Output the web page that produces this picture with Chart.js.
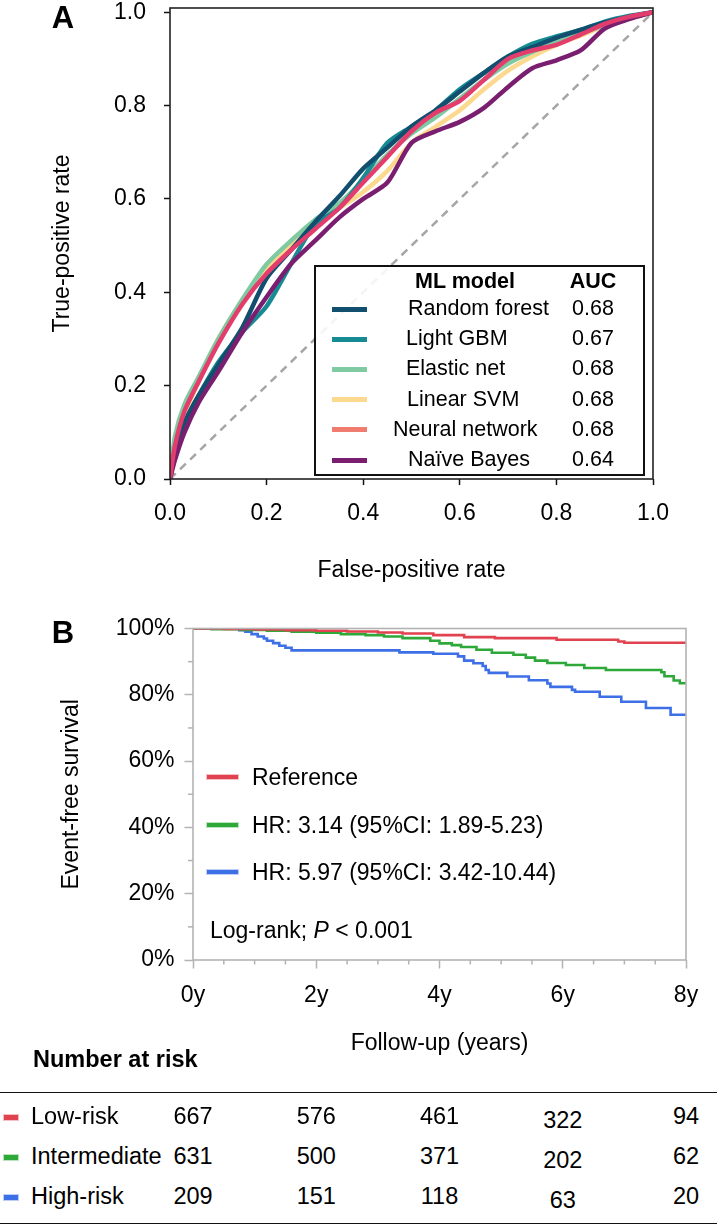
<!DOCTYPE html>
<html><head><meta charset="utf-8">
<script src="https://cdn.jsdelivr.net/npm/chart.js@4.4.1/dist/chart.umd.min.js"></script>
<style>
html,body{margin:0;padding:0;background:#fff;}
body{width:717px;height:1226px;position:relative;overflow:hidden;font-family:'Liberation Sans',Arial,Helvetica,sans-serif;color:#000;}
canvas{position:absolute;left:0;}
.t{position:absolute;white-space:nowrap;line-height:1;}
.mk{position:absolute;}
</style></head><body>
<canvas id="cA" width="717" height="610" style="top:0px"></canvas>
<canvas id="cB" width="717" height="460" style="top:600px"></canvas>
<div id="ov"></div>
<script>
// ---------- Panel A data (ROC) ----------
const rocFpr = [0,0.01,0.03,0.06,0.1,0.15,0.2,0.25,0.3,0.35,0.4,0.45,0.5,0.55,0.6,0.65,0.7,0.75,0.8,0.85,0.9,0.95,1];
const tprRandomForest = [0,0.06,0.12,0.18,0.245,0.325,0.43,0.49,0.55,0.605,0.665,0.71,0.755,0.79,0.83,0.87,0.905,0.925,0.945,0.962,0.978,0.99,1];
const tprLightGBM     = [0,0.05,0.12,0.18,0.25,0.315,0.37,0.46,0.545,0.58,0.645,0.72,0.755,0.79,0.835,0.87,0.905,0.932,0.948,0.962,0.98,0.992,1];
const tprElasticNet   = [0,0.09,0.16,0.22,0.30,0.385,0.46,0.51,0.555,0.59,0.64,0.695,0.74,0.775,0.815,0.855,0.89,0.915,0.935,0.955,0.972,0.988,1];
const tprLinearSVM    = [0,0.08,0.14,0.21,0.30,0.38,0.45,0.50,0.545,0.58,0.615,0.66,0.72,0.755,0.79,0.835,0.875,0.905,0.93,0.95,0.97,0.985,1];
const tprNeuralNet    = [0,0.07,0.145,0.21,0.29,0.375,0.44,0.49,0.535,0.58,0.635,0.69,0.745,0.785,0.81,0.855,0.90,0.918,0.93,0.952,0.975,0.99,1];
const tprNaiveBayes   = [0,0.04,0.10,0.165,0.23,0.315,0.39,0.46,0.51,0.56,0.60,0.635,0.72,0.745,0.765,0.795,0.84,0.88,0.897,0.918,0.965,0.985,1];
const modelNames = ['Random forest','Light GBM','Elastic net','Linear SVM','Neural network','Naïve Bayes'];
const aucValues  = ['0.68','0.67','0.68','0.68','0.68','0.64'];
const rocTicks = [0,0.2,0.4,0.6,0.8,1.0];

// ---------- Panel B data (Kaplan-Meier) ----------
const kmTimeLow  = [0,0.5,1.0,1.5,2.0,2.5,3.0,3.4,3.9,4.4,4.9,5.9,6.9,7.0,8];
const kmSurvLow  = [100,99.9,99.7,99.5,99.3,99.1,98.8,98.5,98.0,97.4,97.1,96.6,96.1,95.7,95.7];
const kmTimeMid  = [0,0.3,0.8,1.2,1.6,2.0,2.4,2.8,3.1,3.4,3.85,4.0,4.2,4.35,4.6,4.85,5.2,5.4,5.55,5.75,6.05,6.35,6.7,7.6,7.65,7.8,7.9,8];
const kmSurvMid  = [100,99.8,99.6,99.3,99.0,98.7,98.3,98.0,97.6,97.1,96.3,95.5,95.0,94.4,93.6,92.7,92.1,91.2,90.3,89.6,89.0,88.1,87.5,86.8,85.6,84.3,83.5,83.5];
const kmTimeHigh = [0,0.75,0.85,0.95,1.05,1.15,1.2,1.3,1.4,1.5,1.6,3.35,3.9,4.3,4.4,4.55,4.7,4.75,4.8,5.1,5.45,5.75,5.8,6.15,6.2,6.6,6.95,7.35,7.75,8];
const kmSurvHigh = [100,99.5,99.0,98.3,97.6,97.0,96.3,95.6,94.8,94.2,93.4,92.8,92.4,91.6,90.3,89.5,88.7,87.5,86.6,85.5,84.4,83.4,82.4,81.5,80.9,79.4,77.9,76.0,74.0,74.0];
const kmLegend = ['Reference','HR: 3.14 (95%CI: 1.89-5.23)','HR: 5.97 (95%CI: 3.42-10.44)'];
const riskGroups = ['Low-risk','Intermediate','High-risk'];
const riskTimes  = [0,2,4,6,8];
const riskLow    = [667,576,461,322,94];
const riskMid    = [631,500,371,202,62];
const riskHigh   = [209,151,118,63,20];
const kmTicksX = [0,2,4,6,8];
const kmTicksY = [0,20,40,60,80,100];

// ---------- styles ----------
const FONT = "'Liberation Sans', Arial, Helvetica, sans-serif";
Chart.defaults.font.family = FONT;
Chart.defaults.color = '#000';
const rocColors = ['#124e6e','#168b94','#7fcaa0','#fcd98e','#e23d6d','#7a1f70'];
const rocLegendColors = ['#124e6e','#168b94','#7fcaa0','#fcd98e','#f07b6f','#7a1f70'];
const rocOrder = [2,3,4,5,0,1];
const kmColors = ['#e0424f','#2fa83a','#3d6fe6'];

const pts = (xs, ys) => xs.map((x,i)=>({x, y: ys[i]}));
const frame = (color,w) => ({
  id:'frame',
  afterDatasetsDraw(chart){
    const a = chart.chartArea, ctx = chart.ctx;
    ctx.save(); ctx.strokeStyle = color; ctx.lineWidth = w;
    ctx.strokeRect(a.left, a.top, a.right-a.left, a.bottom-a.top);
    ctx.restore();
  }
});

// ---------- Chart A ----------
const rocSeries = [tprRandomForest,tprLightGBM,tprElasticNet,tprLinearSVM,tprNeuralNet,tprNaiveBayes];
const dsA = rocSeries.map((s,i)=>({
  label: modelNames[i], data: pts(rocFpr, s), borderColor: rocColors[i], borderWidth: 4.5,
  pointRadius: 0, showLine: true, fill: false, tension: 0.25, order: rocOrder[i]
}));
dsA.push({label:'chance', data: pts([0,1],[0,1]), borderColor:'#a6a6a6', borderWidth:2.5,
  borderDash:[8,6], pointRadius:0, showLine:true, fill:false, order: 10});

const axisA = {
  grid:{display:true, drawOnChartArea:false, drawTicks:true, tickLength:6, tickColor:'#111', tickWidth:1.5},
  border:{display:false}
};
const chartA = new Chart(document.getElementById('cA'), {
  type:'scatter',
  data:{datasets: dsA},
  options:{
    responsive:false, animation:false, devicePixelRatio:1,
    layout:{padding:{left:0, top:8, right:64, bottom:0}},
    plugins:{legend:{display:false}, tooltip:{enabled:false}},
    scales:{
      x:{type:'linear', min:0, max:1, ...axisA,
        afterBuildTicks: ax => { ax.ticks = rocTicks.map(v=>({value:v})); },
        afterFit: ax => { ax.height = 131; },
        ticks:{padding:15, font:{size:23}, color:'#000', callback: v => Number(v).toFixed(1)},
        title:{display:true, text:'False-positive rate', font:{size:23}, color:'#000', padding:{top:0,bottom:26}}
      },
      y:{type:'linear', min:0, max:1.009, ...axisA,
        afterBuildTicks: ax => { ax.ticks = rocTicks.map(v=>({value:v})); },
        afterFit: ax => { ax.width = 170; ax.paddingTop = 0; ax.paddingBottom = 0; },
        ticks:{padding:18, font:{size:23}, color:'#000', callback: v => Number(v).toFixed(1)},
        title:{display:true, text:'True-positive rate', font:{size:23}, color:'#000', padding:{top:49,bottom:0}}
      }
    }
  },
  plugins:[frame('#222',1.6)]
});

// ---------- Chart B ----------
const kmSets = [[kmTimeLow,kmSurvLow],[kmTimeMid,kmSurvMid],[kmTimeHigh,kmSurvHigh]];
const dsB = kmSets.map((s,i)=>({
  label: riskGroups[i], data: pts(s[0], s[1]), borderColor: kmColors[i], borderWidth: 2.6,
  pointRadius:0, showLine:true, fill:false, stepped:'before'
}));
const grey = '#b3b3b3';
const minorTicks = {
  id:'minorTicks',
  afterDraw(chart){
    const {ctx, chartArea:a, scales:{x,y}} = chart;
    ctx.save(); ctx.strokeStyle = grey; ctx.lineWidth = 1.5;
    for (let v=0.5; v<8; v+=0.5){ if (v%2===0) continue;
      const px = x.getPixelForValue(v);
      ctx.beginPath(); ctx.moveTo(px,a.bottom); ctx.lineTo(px,a.bottom+4.5); ctx.stroke(); }
    for (let v=10; v<100; v+=20){
      const py = y.getPixelForValue(v);
      ctx.beginPath(); ctx.moveTo(a.left,py); ctx.lineTo(a.left-5,py); ctx.stroke(); }
    ctx.restore();
  }
};
const axisB = {
  grid:{display:true, drawOnChartArea:false, drawTicks:true, tickLength:8.5, tickColor:grey, tickWidth:1.5},
  border:{display:false}
};
const chartB = new Chart(document.getElementById('cB'), {
  type:'scatter',
  data:{datasets: dsB},
  options:{
    responsive:false, animation:false, devicePixelRatio:1,
    layout:{padding:{left:0, top:28.5, right:31, bottom:0}},
    plugins:{legend:{display:false}, tooltip:{enabled:false}},
    scales:{
      x:{type:'linear', min:0, max:8, ...axisB,
        afterBuildTicks: ax => { ax.ticks = kmTicksX.map(v=>({value:v})); },
        afterFit: ax => { ax.height = 100; },
        ticks:{padding:13, font:{size:23}, color:'#000', callback: v => v + 'y'},
        title:{display:true, text:'Follow-up (years)', font:{size:23}, color:'#000', padding:{top:0,bottom:3}}
      },
      y:{type:'linear', min:0, max:100, ...axisB,
        afterBuildTicks: ax => { ax.ticks = kmTicksY.map(v=>({value:v})); },
        afterFit: ax => { ax.width = 193; ax.paddingTop = 0; ax.paddingBottom = 0; },
        ticks:{padding:10, font:{size:23}, color:'#000', callback: v => v + '%'},
        title:{display:true, text:'Event-free survival', font:{size:23}, color:'#000', padding:{top:58,bottom:0}}
      }
    }
  },
  plugins:[frame(grey,1.6), minorTicks]
});

// ---------- overlays ----------
const ov = document.getElementById('ov');
function txt(s, x, y, opt={}){
  const d = document.createElement('div'); d.className='t';
  d.innerHTML = s;
  d.style.fontSize = (opt.size||23)+'px';
  if (opt.bold) d.style.fontWeight = 'bold';
  d.style.left = x+'px'; d.style.top = y+'px';
  const tx = opt.align==='center' ? '-50%' : (opt.align==='right' ? '-100%' : '0');
  d.style.transform = 'translate('+tx+',-50%)';
  ov.appendChild(d); return d;
}
function mark(x,y,w,h,color,halo){
  const d = document.createElement('div'); d.className='mk';
  d.style.left=x+'px'; d.style.top=(y-h/2)+'px'; d.style.width=w+'px'; d.style.height=h+'px';
  d.style.background=color;
  if (halo) d.style.boxShadow='0 0 0 1px '+halo;
  ov.appendChild(d);
}
// panel letters
txt('A', 63, 17, {size:31, bold:true, align:'center'});
txt('B', 63, 632, {size:31, bold:true, align:'center'});

// legend box A
const box = document.createElement('div');
box.style.cssText='position:absolute;left:314px;top:265px;width:327px;height:207px;border:2px solid #111;background:rgba(255,255,255,0.88);';
ov.appendChild(box);
txt('ML model', 465, 282, {size:21.5, bold:true, align:'center'});
txt('AUC', 593, 282, {size:21.5, bold:true, align:'center'});
const nameLeft = [408,406,406,407,393,408];
modelNames.forEach((n,i)=>{
  const y = 309 + i*30.2;
  mark(332, y, 35, 5, rocLegendColors[i]);
  txt(n, nameLeft[i], y, {size:21.5});
  txt(aucValues[i], 593, y, {size:21.5, align:'center'});
});

// legend B
kmLegend.forEach((s,i)=>{
  const y = 777 + i*47.5;
  mark(207, y, 31, 4, kmColors[i], kmColors[i]+'55');
  txt(s, 252, y, {size:23});
});
txt('Log-rank; <i>P</i> &lt; 0.001', 210, 930, {size:23});

// number at risk table
txt('Number at risk', 33, 1060, {size:23.5, bold:true});
const hl = (y)=>{ const d=document.createElement('div'); d.style.cssText='position:absolute;left:0;width:717px;height:1.6px;background:#111;top:'+y+'px'; ov.appendChild(d); };
hl(1091.5); hl(1222.5);
const colDy = [0,0,0,3.5,0];
const riskRows = [riskLow, riskMid, riskHigh];
const sx = chartB.scales.x;
riskRows.forEach((row,i)=>{
  const y = 1117 + i*40;
  mark(4, y, 14, 5, kmColors[i], kmColors[i]+'55');
  txt(riskGroups[i], 31, y, {size:23.5});
  row.forEach((v,j)=>{
    txt(String(v), sx.getPixelForValue(riskTimes[j]), y + colDy[j], {size:23.5, align:'center'});
  });
});
</script>
</body></html>
